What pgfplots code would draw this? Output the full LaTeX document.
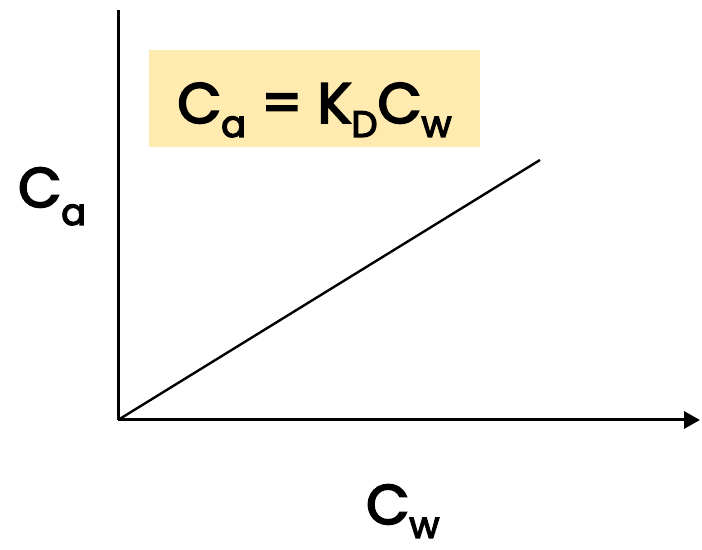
\documentclass[border=0pt]{standalone}
\usepackage{pgfplots}
\pgfplotsset{compat=1.18}
\usepackage{fontspec}
\setmainfont[FakeBold=3.5]{Poppins}
\usetikzlibrary{arrows.meta}
\definecolor{boxy}{RGB}{255,235,175}
\newcommand{\sub}[2][14]{\raisebox{-#1bp}{\fontsize{37}{37}\selectfont #2}}
\begin{document}
\begin{tikzpicture}[x=1bp,y=1bp]
\useasboundingbox (0,0) rectangle (702,550);
\begin{axis}[
  at={(118bp,130bp)}, anchor=origin,
  x=1bp, y=1bp, scale only axis,
  xmin=0, xmax=582, ymin=0, ymax=410,
  axis lines*=left,
  axis line style={line width=3bp},
  x axis line style={-{Triangle[length=16bp,width=17bp]}},
  xtick=\empty, ytick=\empty,
  clip=false,
]
\addplot[black, line width=2.4bp, mark=none] coordinates {(0,0) (422,260)};
\end{axis}
\fill[boxy] (149,403) rectangle (480,500);
\node[anchor=base, inner sep=0pt, font=\fontsize{57}{57}\selectfont] at (314.5,427) {C\sub{a} = K\sub{D}C\sub{w}};
\node[anchor=base west, inner sep=0pt, font=\fontsize{56}{56}\selectfont] at (18,343) {C\sub[18]{a}};
\node[anchor=base west, inner sep=0pt, font=\fontsize{56}{56}\selectfont] at (366,26) {C\sub[14]{w}};
\end{tikzpicture}
\end{document}
